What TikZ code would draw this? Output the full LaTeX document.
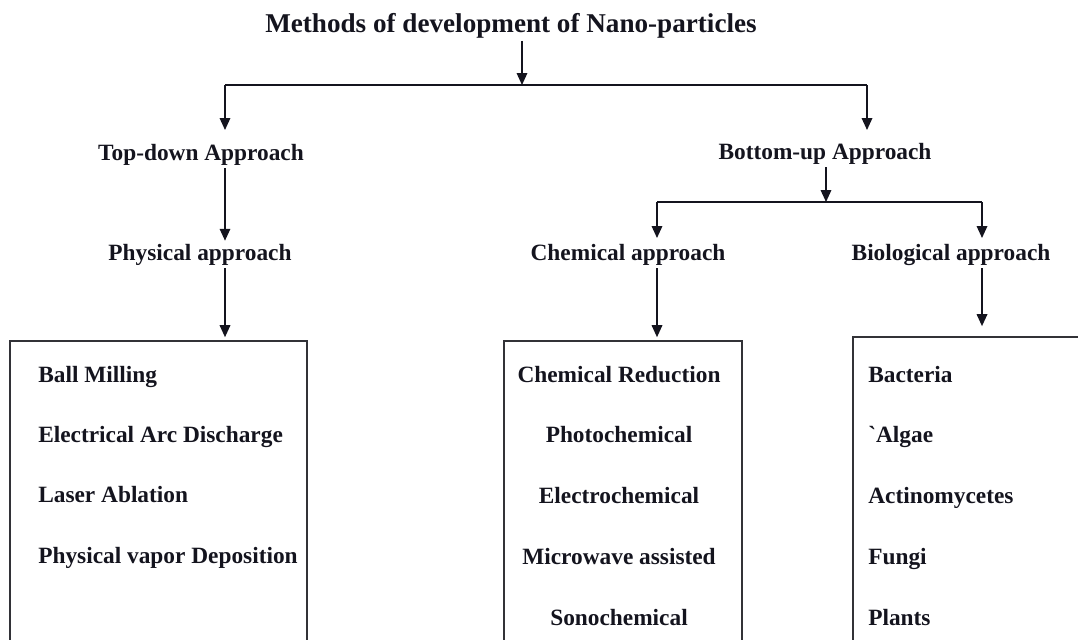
\documentclass[tikz,border=0pt]{standalone}
\usepackage{fontspec}
\setmainfont{Liberation Serif}
\usetikzlibrary{arrows.meta,positioning,calc}
\definecolor{inkdark}{RGB}{20,20,30}
\definecolor{framegray}{RGB}{50,50,55}
\tikzset{
  arr/.style={-{Triangle[length=8.5pt, width=7.5pt]}, inkdark, line width=1.1pt},
  bar/.style={inkdark, line width=1.1pt},
  ttl/.style={text=inkdark, inner sep=2pt, font=\fontsize{19.3}{23}\selectfont\bfseries},
  lvl/.style={text=inkdark, inner sep=2pt, font=\fontsize{16.6}{20}\selectfont\bfseries},
  item/.style={text=inkdark, inner sep=0pt, font=\fontsize{16.6}{20}\selectfont\bfseries},
  listbox/.style={draw=framegray, line width=1.1pt, minimum height=8cm, inner sep=0pt},
}
\begin{document}
\begin{tikzpicture}[x=0.025cm, y=-0.025cm]
  % --- page frame (y grows downwards, one unit = one pixel)
  \useasboundingbox (0,0) rectangle (1078,639);
  \clip (0,0) rectangle (1078,639);
  % --- headings
  \node[ttl, anchor=base] (methods) at (511,32) {Methods of development of Nano-particles};
  \node[lvl, anchor=base] (topdown) at (201,160) {Top-down Approach};
  \node[lvl, anchor=base] (bottomup) at (825,159) {Bottom-up Approach};
  \node[lvl, anchor=base] (physical) at (200,260) {Physical approach};
  \node[lvl, anchor=base] (chemical) at (628,260) {Chemical approach};
  \node[lvl, anchor=base] (biological) at (951,260) {Biological approach};
  % --- boxes, open at the lower edge
  \node[listbox, minimum width=7.425cm, anchor=north west] (physbox) at (9,340) {};
  \node[listbox, minimum width=5.95cm, anchor=north west] (chembox) at (503,340) {};
  \node[listbox, minimum width=6.2cm, anchor=north west] (biobox) at (852,336) {};
  % --- forks
  \coordinate (mfork) at (522,85);
  \coordinate (lfork) at (225,85);
  \coordinate (rfork) at (867,85);
  \coordinate (bfork) at (826,202);
  \coordinate (cfork) at (657,202);
  \coordinate (gfork) at (982,202);
  \draw[arr] (methods.south -| mfork) -- (mfork);
  \draw[bar] (lfork) -- (rfork);
  \draw[arr] (lfork) -- ++(0,45);
  \draw[arr] (rfork) -- ++(0,45);
  \draw[arr] (topdown.south -| lfork) -- (physical.north -| lfork);
  \draw[arr, shorten >=2pt] (physical.south -| lfork) -- (physbox.north -| lfork);
  \draw[arr] (bottomup.south -| bfork) -- (bfork);
  \draw[bar] (cfork) -- (gfork);
  \draw[arr] (cfork) -- ++(0,36);
  \draw[arr] (gfork) -- ++(0,36);
  \draw[arr, shorten >=2pt] (chemical.south -| cfork) -- (chembox.north -| cfork);
  \draw[arr, shorten >=7pt] (biological.south -| gfork) -- (biobox.north -| gfork);
  % --- box contents
  \foreach \t [count=\i from 0] in {Ball Milling, Electrical Arc Discharge,
                                    Laser Ablation, Physical vapor Deposition}{
    \node[item, anchor=base west] (phys-\i) at (38,382+60.4*\i) {\t};}
  \foreach \t [count=\i from 0] in {Chemical Reduction, Photochemical, Electrochemical,
                                    Microwave assisted, Sonochemical}{
    \node[item, anchor=base] (chem-\i) at (619,382+60.75*\i) {\t};}
  \foreach \t [count=\i from 0] in {Bacteria, \textasciigrave Algae, Actinomycetes,
                                    Fungi, Plants}{
    \node[item, anchor=base west] (bio-\i) at (868,382+60.75*\i) {\t};}
\end{tikzpicture}
\end{document}
